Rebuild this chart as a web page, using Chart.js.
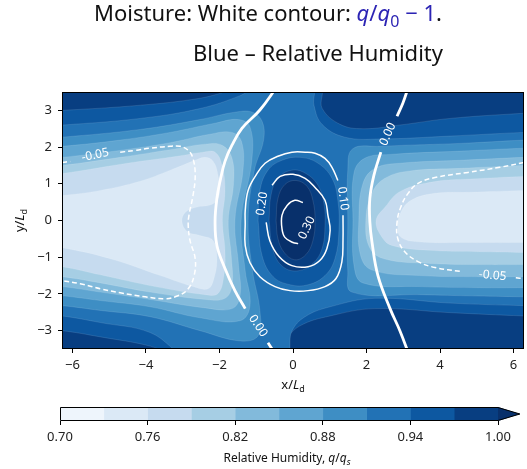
<!DOCTYPE html>
<html>
<head>
<meta charset="utf-8">
<script src="https://cdn.jsdelivr.net/npm/chart.js@4.4.1/dist/chart.umd.min.js"></script>
<style>
  html, body { margin: 0; padding: 0; background: #ffffff; }
  #wrap { position: relative; width: 527px; height: 469px; overflow: hidden; }
  #main { position: absolute; left: 0; top: 0; }
  #cbar { position: absolute; left: 0; top: 400px; }
</style>
</head>
<body>
<div id="wrap">
  <canvas id="main" width="527" height="400"></canvas>
  <canvas id="cbar" width="527" height="69"></canvas>
</div>
<script>
// ---------- colour levels of relative humidity ----------
const rhLevels = [0.70, 0.73, 0.76, 0.79, 0.82, 0.85, 0.88, 0.91, 0.94, 0.97, 1.00];
const bandColors = ['#eef5fc', '#dbe9f6', '#c6dbef', '#a6cee4', '#82badb', '#5fa5d1',
                    '#3e8ec4', '#2272b5', '#0d58a1', '#083e81', '#08306b'];
const cbarTicks = [0.70, 0.76, 0.82, 0.88, 0.94, 1.00];
const xTicks = [-6, -4, -2, 0, 2, 4, 6];
const yTicks = [-3, -2, -1, 0, 1, 2, 3];

// ---------- relative humidity contours, [x/Ld, y/Ld] ----------
// regions where RH is below the level (outer, then left and right lobes)
const rh097 = [[-6.6,3.0],[-6.28,3.0],[-4.16,3.14],[-2.53,3.33],[-1.30,3.61],[0.73,3.61],[0.79,3.06],[1.28,2.62],[1.90,2.50],[2.90,2.60],[4.27,2.78],[6.28,2.92],[6.6,2.92],[6.6,-2.6],[6.28,-2.6],[4.27,-2.51],[2.23,-2.40],[1.01,-2.60],[0.19,-2.87],[-0.22,-3.28],[-0.49,-3.72],[-3.07,-3.72],[-3.89,-3.42],[-5.24,-3.17],[-6.28,-3.0],[-6.6,-3.0]];
const rh094 = [[-6.6,2.60],[-6.28,2.60],[-4.16,2.78],[-2.53,3.05],[-1.44,3.40],[-0.95,3.66],[0.52,3.66],[0.57,3.14],[0.79,2.62],[1.41,2.27],[2.36,2.22],[4.27,2.30],[6.28,2.40],[6.6,2.40],[6.6,-2.32],[6.28,-2.32],[4.27,-2.25],[2.23,-2.12],[1.01,-2.35],[0.33,-2.62],[-0.03,-3.01],[-0.22,-3.72],[-2.80,-3.72],[-3.89,-3.05],[-5.24,-2.78],[-6.28,-2.60],[-6.6,-2.60]];
const rh091L = [[-6.6,2.27],[-6.28,2.27],[-4.16,2.48],[-2.53,2.75],[-1.58,2.95],[-1.10,2.95],[-0.84,2.70],[-0.80,2.19],[-1.05,1.37],[-1.22,0],[-1.10,-1.37],[-0.90,-2.46],[-0.95,-3.14],[-1.44,-3.28],[-2.53,-3.0],[-3.89,-2.62],[-5.24,-2.45],[-6.28,-2.32],[-6.6,-2.32]];
const rh088L = [[-6.6,2.02],[-6.28,2.02],[-4.70,2.19],[-3.34,2.40],[-2.12,2.65],[-1.49,2.75],[-1.17,2.55],[-1.12,1.64],[-1.41,0],[-1.30,-1.37],[-1.17,-2.32],[-1.44,-2.73],[-2.53,-2.65],[-3.89,-2.35],[-5.24,-2.18],[-6.28,-2.05],[-6.6,-2.05]];
const rh085L = [[-6.6,1.72],[-6.28,1.72],[-4.70,1.91],[-3.34,2.12],[-2.26,2.35],[-1.66,2.40],[-1.40,2.15],[-1.36,1.37],[-1.58,0],[-1.48,-1.23],[-1.44,-2.05],[-1.66,-2.40],[-2.39,-2.38],[-3.89,-2.15],[-5.24,-1.95],[-6.28,-1.80],[-6.6,-1.80]];
const rh082L = [[-6.6,1.50],[-6.28,1.50],[-4.70,1.72],[-3.34,1.93],[-2.39,2.08],[-1.93,2.05],[-1.66,1.70],[-1.62,0.96],[-1.76,0],[-1.68,-0.96],[-1.66,-1.78],[-1.85,-2.12],[-2.39,-2.15],[-3.89,-1.95],[-5.24,-1.70],[-6.28,-1.53],[-6.6,-1.53]];
const rh079L = [[-6.6,1.28],[-6.28,1.28],[-4.51,1.56],[-3.15,1.75],[-2.45,1.86],[-2.12,1.86],[-1.93,1.50],[-1.85,0.82],[-1.92,0],[-1.85,-0.82],[-1.88,-1.50],[-2.04,-1.99],[-2.39,-2.02],[-3.75,-1.80],[-5.24,-1.48],[-6.28,-1.26],[-6.6,-1.26]];
const rh076L = [[-6.6,0.68],[-6.28,0.68],[-5.24,0.82],[-4.16,1.07],[-3.34,1.37],[-2.66,1.64],[-2.39,1.72],[-2.17,1.61],[-2.04,1.23],[-2.01,0.68],[-2.20,0.44],[-2.64,0.36],[-2.93,0.22],[-3.02,-0.03],[-2.88,-0.30],[-2.53,-0.41],[-2.17,-0.55],[-2.07,-1.04],[-2.15,-1.58],[-2.31,-1.86],[-2.72,-1.80],[-3.61,-1.50],[-4.97,-1.04],[-6.28,-0.74],[-6.6,-0.74]];
const rh091R = [[6.6,2.19],[6.28,2.19],[4.54,2.10],[2.36,2.02],[1.62,1.95],[1.49,1.37],[1.49,0],[1.49,-1.37],[1.60,-1.95],[3.45,-2.02],[6.28,-2.08],[6.6,-2.08]];
const rh088R = [[6.6,1.97],[6.28,1.97],[4.54,1.89],[2.64,1.80],[1.96,1.70],[1.66,1.30],[1.63,0],[1.66,-1.23],[1.90,-1.70],[3.45,-1.80],[5.08,-1.83],[6.28,-1.83],[6.6,-1.83]];
const rh085R = [[6.6,1.72],[6.28,1.72],[4.54,1.64],[2.91,1.56],[2.23,1.42],[1.90,1.0],[1.79,0],[1.84,-0.96],[2.15,-1.35],[3.45,-1.50],[5.08,-1.53],[6.28,-1.53],[6.6,-1.53]];
const rh082R = [[6.6,1.50],[6.28,1.50],[4.54,1.42],[3.18,1.35],[2.50,1.15],[2.15,0.75],[1.98,0],[2.09,-0.75],[2.50,-1.05],[3.72,-1.17],[5.08,-1.20],[6.28,-1.20],[6.6,-1.20]];
const rh079R = [[6.6,1.20],[6.28,1.20],[4.81,1.13],[3.86,1.06],[2.93,0.80],[2.50,0.36],[2.26,0],[2.39,-0.41],[2.69,-0.68],[3.86,-0.82],[5.08,-0.85],[6.28,-0.87],[6.6,-0.87]];
const rh076R = [[6.6,0.82],[6.28,0.82],[4.81,0.77],[3.86,0.74],[3.21,0.55],[2.93,0.22],[2.85,-0.14],[2.93,-0.45],[3.40,-0.58],[4.76,-0.60],[6.28,-0.60],[6.6,-0.60]];
// moist core around the origin: regions where RH is above the level
const rh094C = [[-0.95,0],[-0.90,0.82],[-0.68,1.37],[-0.30,1.64],[0.19,1.72],[0.68,1.56],[1.06,1.15],[1.22,0.55],[1.25,-0.27],[1.14,-1.04],[0.87,-1.50],[0.41,-1.75],[-0.08,-1.75],[-0.54,-1.53],[-0.84,-0.96],[-0.95,0]];
const rh097C = [[-0.65,0],[-0.60,0.68],[-0.41,1.15],[-0.03,1.37],[0.35,1.28],[0.68,0.96],[0.84,0.46],[0.87,-0.14],[0.79,-0.77],[0.54,-1.17],[0.14,-1.37],[-0.27,-1.26],[-0.54,-0.82],[-0.65,0]];
const rh100C = [[-0.46,0],[-0.41,0.60],[-0.22,0.98],[0.08,1.09],[0.38,0.93],[0.54,0.55],[0.60,0],[0.54,-0.55],[0.35,-0.93],[0.05,-1.07],[-0.24,-0.87],[-0.41,-0.49],[-0.46,0]];

// ---------- moisture anomaly q/q0 - 1 contours ----------
const q000L  = [[-0.46,3.61],[-0.90,3.01],[-1.39,2.51],[-1.66,2.05],[-1.85,1.61],[-1.98,1.09],[-2.07,0.60],[-2.12,-0.03],[-2.07,-0.68],[-1.85,-1.31],[-1.58,-1.91],[-1.30,-2.40]];
const q000Lb = [[-0.68,-3.33],[-0.43,-3.72]];
const q000R  = [[3.13,3.61],[2.99,3.20],[2.83,2.84]];
const q000Rb = [[2.39,1.86],[2.20,1.23],[2.09,0.60],[2.09,-0.03],[2.15,-0.60],[2.31,-1.50],[2.64,-2.40],[2.91,-3.01],[3.18,-3.72]];
const q010   = [[1.22,1.09],[1.06,1.45],[0.87,1.69],[0.60,1.83],[0.33,1.86],[-0.03,1.86],[-0.41,1.75],[-0.76,1.56],[-1.01,1.23],[-1.22,0.82],[-1.30,0.27],[-1.30,-0.08],[-1.30,-0.68],[-1.17,-1.15],[-0.90,-1.53],[-0.49,-1.80],[-0.08,-1.91],[0.41,-1.91],[0.87,-1.80],[1.17,-1.58],[1.33,-1.12],[1.36,-0.55],[1.36,0.14]];
const q020   = [[-0.57,0.96],[-0.35,1.20],[0,1.26],[0.33,1.15],[0.60,0.90],[0.87,0.55],[0.95,0.14],[1.01,-0.27],[0.92,-0.77],[0.73,-1.09],[0.41,-1.26],[-0.03,-1.23],[-0.38,-0.98],[-0.63,-0.55],[-0.73,-0.05]];
const q030   = [[0.27,0.49],[0.05,0.55],[-0.16,0.41],[-0.30,0.14],[-0.30,-0.22],[-0.22,-0.46],[0,-0.60],[0.14,-0.63]];
const qm005La = [[-6.28,1.58],[-6.06,1.61]];
const qm005Lb = [[-4.70,1.86],[-4.29,1.91],[-3.89,1.97],[-3.34,2.02],[-3.07,2.02],[-2.85,1.91],[-2.72,1.69],[-2.66,1.23],[-2.72,0.68],[-2.83,0.14],[-2.85,-0.14],[-2.80,-0.55],[-2.66,-1.04],[-2.69,-1.50],[-2.85,-1.86],[-3.13,-2.05],[-3.48,-2.13],[-4.02,-2.08],[-4.70,-1.97],[-5.24,-1.86],[-5.79,-1.72],[-6.28,-1.64]];
const qm005Ra = [[6.28,1.58],[5.63,1.45],[4.76,1.31],[3.86,1.17],[3.40,1.01],[3.13,0.74],[2.93,0.36],[2.83,-0.05],[2.85,-0.49],[3.04,-0.85],[3.40,-1.12],[3.86,-1.28],[4.57,-1.39]];
const qm005Rb = [[6.06,-1.56],[6.28,-1.58]];

// inline contour labels: position, text, angle (deg)
const qLabelPos  = [[-5.38,1.78],[5.43,-1.50],[-0.95,-2.87],[2.58,2.35],[1.36,0.60],[-0.84,0.46],[0.38,-0.20]];
const qLabelText = ['-0.05','-0.05','0.00','0.00','0.10','0.20','0.30'];
const qLabelRot  = [-12, 5, 56, -66, 82, -81, -65];

// ---------- build datasets ----------
const FONT = '"Noto Sans", "Open Sans", sans-serif';
const bandIndex = (level, above) => Math.round((level - rhLevels[0]) / 0.03) - (above ? 0 : 1);

const fills = [
  [rh097, 0.97, false], [rh094, 0.94, false],
  [rh091L, 0.91, false], [rh091R, 0.91, false],
  [rh088L, 0.88, false], [rh088R, 0.88, false],
  [rh085L, 0.85, false], [rh085R, 0.85, false],
  [rh082L, 0.82, false], [rh082R, 0.82, false],
  [rh079L, 0.79, false], [rh079R, 0.79, false],
  [rh076L, 0.76, false], [rh076R, 0.76, false],
  [rh094C, 0.94, true], [rh097C, 0.97, true], [rh100C, 1.00, true]
];
const toXY = pts => pts.map(p => ({ x: p[0], y: p[1] }));

const datasets = [];
fills.forEach(([pts, level, above], i) => {
  datasets.push({
    data: toXY(pts),
    fill: 'shape',
    backgroundColor: bandColors[bandIndex(level, above)],
    borderColor: 'rgba(255,255,255,0.16)',
    borderWidth: 0.7,
    pointRadius: 0,
    tension: 0.4,
    order: 1000 - i
  });
});
const lines = [
  [q000L, 2.8, []], [q000Lb, 2.8, []], [q000R, 2.8, []], [q000Rb, 2.8, []],
  [q010, 1.5, []], [q020, 1.5, []], [q030, 1.5, []],
  [qm005La, 1.5, [5, 3]], [qm005Lb, 1.5, [5, 3]], [qm005Ra, 1.5, [5, 3]], [qm005Rb, 1.5, [5, 3]]
];
lines.forEach(([pts, w, dash], i) => {
  datasets.push({
    data: toXY(pts),
    fill: false,
    borderColor: '#ffffff',
    borderWidth: w,
    borderDash: dash,
    pointRadius: 0,
    tension: 0.4,
    order: 100 - i
  });
});

function drawRuns(ctx, runs, cx, baseline, size) {
  const fontFor = r => `${r.i ? 'italic ' : ''}${r.sub ? Math.round(size * 0.72) : size}px ${FONT}`;
  let w = 0;
  runs.forEach(r => { ctx.font = fontFor(r); w += ctx.measureText(r.t).width; });
  let x = cx - w / 2;
  ctx.textAlign = 'left';
  ctx.textBaseline = 'alphabetic';
  runs.forEach(r => {
    ctx.font = fontFor(r);
    ctx.fillStyle = r.c || '#111111';
    ctx.fillText(r.t, x, baseline + (r.sub ? size * 0.25 : 0));
    x += ctx.measureText(r.t).width;
  });
}

const BLUE = '#2c24b4';
const decor = {
  id: 'decor',
  beforeDatasetsDraw(chart) {
    const { ctx, chartArea: a } = chart;
    ctx.save();
    ctx.fillStyle = bandColors[9];
    ctx.fillRect(a.left, a.top, a.width, a.height);
    ctx.restore();
  },
  afterDatasetsDraw(chart) {
    const { ctx, scales: { x, y } } = chart;
    ctx.save();
    ctx.fillStyle = '#ffffff';
    ctx.font = `12px ${FONT}`;
    ctx.textAlign = 'center';
    ctx.textBaseline = 'middle';
    qLabelPos.forEach((p, i) => {
      ctx.save();
      ctx.translate(x.getPixelForValue(p[0]), y.getPixelForValue(p[1]));
      ctx.rotate(qLabelRot[i] * Math.PI / 180);
      ctx.fillText(qLabelText[i], 0, 0);
      ctx.restore();
    });
    ctx.restore();
  },
  afterDraw(chart) {
    const { ctx, chartArea: a } = chart;
    ctx.save();
    ctx.strokeStyle = '#000000';
    ctx.lineWidth = 1;
    ctx.strokeRect(a.left + 0.5, a.top + 0.5, a.width - 1, a.height - 1);
    // title
    drawRuns(ctx, [
      { t: 'Moisture: White contour: ' },
      { t: 'q', i: true, c: BLUE }, { t: '/', c: BLUE }, { t: 'q', i: true, c: BLUE },
      { t: '0', sub: true, c: BLUE }, { t: ' \u2212 1', c: BLUE }, { t: '.' }
    ], 268, 21, 22);
    drawRuns(ctx, [{ t: 'Blue \u2013 Relative Humidity' }], 318, 61, 22);
    // axis titles
    drawRuns(ctx, [{ t: 'x/' }, { t: 'L', i: true }, { t: 'd', sub: true }], (a.left + a.right) / 2, 389, 13);
    ctx.translate(19, (a.top + a.bottom) / 2);
    ctx.rotate(-Math.PI / 2);
    drawRuns(ctx, [{ t: 'y/' }, { t: 'L', i: true }, { t: 'd', sub: true }], 0, 5, 13);
    ctx.restore();
  }
};

const fmt = v => (v < 0 ? '\u2212' + Math.abs(v) : String(v));

new Chart(document.getElementById('main'), {
  type: 'line',
  data: { datasets },
  options: {
    responsive: false,
    animation: false,
    devicePixelRatio: 1,
    layout: { padding: { top: 92, right: 3, left: 0, bottom: 0 } },
    elements: { line: { capBezierPoints: false } },
    plugins: { legend: { display: false }, tooltip: { enabled: false }, title: { display: false } },
    scales: {
      x: {
        type: 'linear', min: -2 * Math.PI, max: 2 * Math.PI,
        afterBuildTicks: s => { s.ticks = xTicks.map(v => ({ value: v })); },
        afterFit: s => { s.height = 51; },
        ticks: { callback: fmt, font: { size: 13, family: FONT }, color: '#222', padding: 4, maxRotation: 0 },
        grid: { display: true, drawOnChartArea: false, drawTicks: true, tickLength: 4, color: '#000' },
        border: { display: false }
      },
      y: {
        type: 'linear', min: -3.5, max: 3.5,
        afterBuildTicks: s => { s.ticks = yTicks.map(v => ({ value: v })); },
        afterFit: s => { s.width = 62; },
        ticks: { callback: fmt, font: { size: 13, family: FONT }, color: '#222', padding: 6 },
        grid: { display: true, drawOnChartArea: false, drawTicks: true, tickLength: 4, color: '#000' },
        border: { display: false }
      }
    }
  },
  plugins: [decor]
});

// ---------- colour bar ----------
const cbDatasets = bandColors.slice(0, 10).map((c, i) => ({
  data: [[rhLevels[i], rhLevels[i + 1]]],
  backgroundColor: c,
  borderWidth: 0,
  barPercentage: 1,
  categoryPercentage: 1,
  grouped: false
}));

const cbDecor = {
  id: 'cbDecor',
  afterDatasetsDraw(chart) {
    const { ctx, chartArea: a, scales: { x } } = chart;
    const x0 = x.getPixelForValue(rhLevels[0]);
    const x1 = x.getPixelForValue(rhLevels[rhLevels.length - 1]);
    const tip = x1 + 0.05 * (x1 - x0);
    const mid = (a.top + a.bottom) / 2;
    ctx.save();
    ctx.fillStyle = bandColors[10];
    ctx.beginPath();
    ctx.moveTo(x1, a.top); ctx.lineTo(tip, mid); ctx.lineTo(x1, a.bottom); ctx.closePath();
    ctx.fill();
    ctx.strokeStyle = '#000';
    ctx.lineWidth = 1;
    ctx.beginPath();
    ctx.moveTo(x0 + 0.5, a.top + 0.5); ctx.lineTo(x1, a.top + 0.5); ctx.lineTo(tip, mid);
    ctx.lineTo(x1, a.bottom - 0.5); ctx.lineTo(x0 + 0.5, a.bottom - 0.5); ctx.closePath();
    ctx.stroke();
    drawRuns(ctx, [{ t: 'Relative Humidity, ' }, { t: 'q', i: true }, { t: '/' }, { t: 'q', i: true }, { t: 's', i: true, sub: true }],
      (x0 + x1) / 2 + 8, 62, 12);
    ctx.restore();
  }
};

new Chart(document.getElementById('cbar'), {
  type: 'bar',
  data: { labels: [''], datasets: cbDatasets },
  options: {
    indexAxis: 'y',
    responsive: false,
    animation: false,
    devicePixelRatio: 1,
    layout: { padding: { top: 7, left: 60, right: 29, bottom: 0 } },
    plugins: { legend: { display: false }, tooltip: { enabled: false } },
    scales: {
      x: {
        type: 'linear', min: rhLevels[0], max: rhLevels[rhLevels.length - 1],
        afterBuildTicks: s => { s.ticks = cbarTicks.map(v => ({ value: v })); },
        afterFit: s => { s.height = 48; },
        ticks: { callback: v => v.toFixed(2), font: { size: 13, family: FONT }, color: '#222', padding: 4, maxRotation: 0 },
        grid: { display: true, drawOnChartArea: false, drawTicks: true, tickLength: 4, color: '#000' },
        border: { display: false }
      },
      y: { display: false }
    }
  },
  plugins: [cbDecor]
});
</script>
</body>
</html>
